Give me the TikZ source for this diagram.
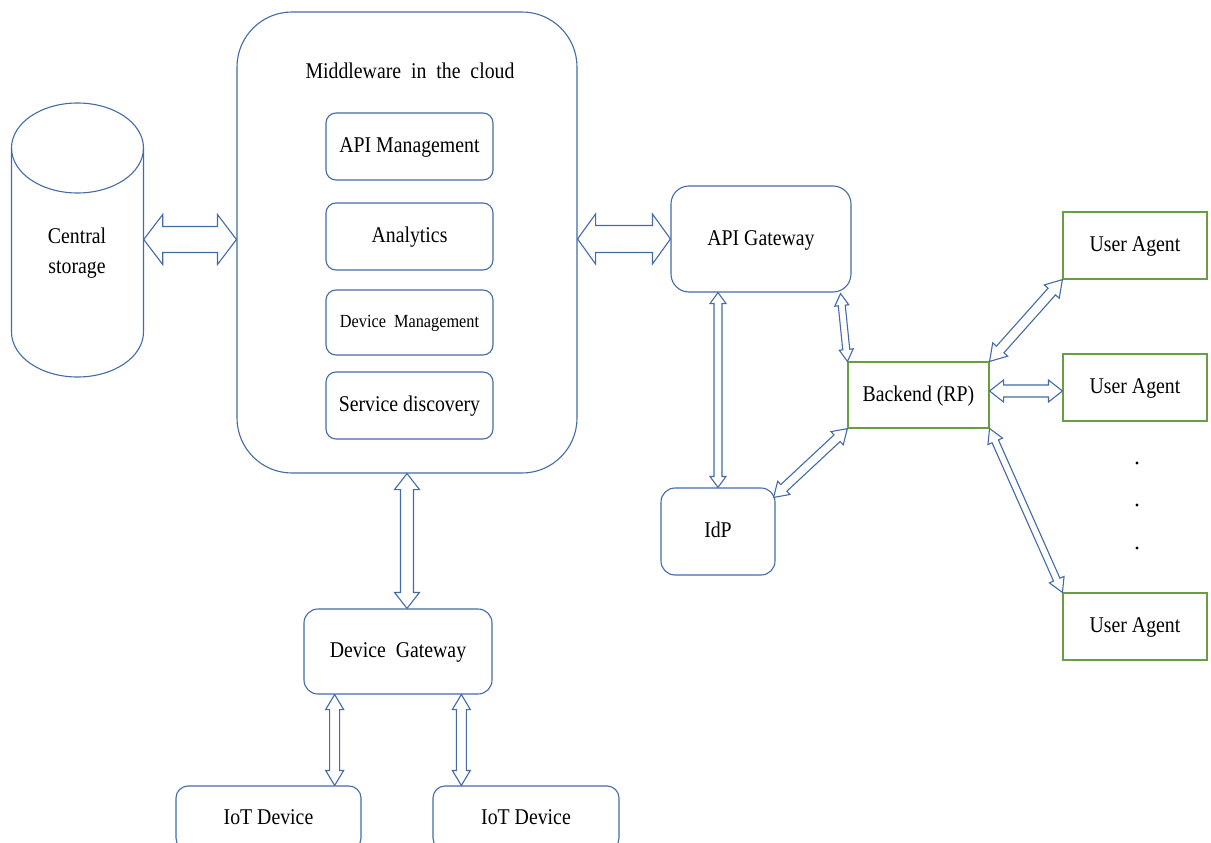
\documentclass[tikz,border=0pt]{standalone}
\usepackage{fontspec}
\setmainfont{Liberation Serif}[FakeStretch=0.88]
\usetikzlibrary{calc}

\definecolor{edgeblue}{RGB}{68,106,168}
\definecolor{edgegreen}{RGB}{104,158,66}

\tikzset{
  txt/.style={font=\fontsize{22.5}{28}\selectfont, text=black, text height=16pt, text depth=4pt},
  rbox/.style={draw=edgeblue, line width=1.1pt, rounded corners=#1, inner sep=0pt, txt},
  rbox/.default=14pt,
  gbox/.style={draw=edgegreen, line width=1.1pt, inner sep=0pt, txt},
  cylline/.style={draw=edgeblue, line width=1.1pt},
  flowarrow/.style={draw=edgeblue, line width=1.1pt, line join=miter, fill=white}
}

% hollow two-headed block arrow between two points:
% #1,#2 end points, #3 half shaft width, #4 half head width, #5 head length
\newcommand\twoway[5]{%
  \path let \p1=(#1), \p2=(#2),
            \n1={atan2(\y2-\y1,\x2-\x1)}, \n2={veclen(\x2-\x1,\y2-\y1)} in
    \pgfextra{\pgfmathsetmacro\twowaytmpa{\n1}\pgfmathsetmacro\twowaytmpb{\n2}%
              \xdef\twowayang{\twowaytmpa}\xdef\twowaylen{\twowaytmpb}};
  \begin{scope}[shift={(#1)}, rotate=\twowayang, x=1pt, y=1pt]
    \draw[flowarrow] (0,0) -- (#5,#4) -- (#5,#3) -- ({\twowaylen-#5},#3)
      -- ({\twowaylen-#5},#4) -- (\twowaylen,0) -- ({\twowaylen-#5},-#4)
      -- ({\twowaylen-#5},-#3) -- (#5,-#3) -- (#5,-#4) -- cycle;
  \end{scope}}

\begin{document}
\begin{tikzpicture}[x=1pt, y=-1pt]
\useasboundingbox (0,0) rectangle (1211,843);
\clip (0,0) rectangle (1211,843);

% central storage (cylinder)
\node[minimum width=132pt, minimum height=275pt, inner sep=0pt] (cs) at (77.5,239.5) {};
\draw[cylline] (77.5,148) ellipse [x radius=66, y radius=45];
\draw[cylline] (11.5,148) -- (11.5,332) arc[start angle=180, end angle=0, x radius=66, y radius=45] -- (143.5,148);
\node[font=\fontsize{22.5}{30}\selectfont, align=center] at (77,253) {Central\\storage};

% middleware
\node[rbox=55pt, minimum width=340pt, minimum height=461pt] (mw) at (407,242.5) {};
\node[txt] (mwtitle) at (410,72) {Middleware\ \ in\ \ the\ \ cloud};
\node[rbox=10pt, minimum width=167pt, minimum height=67pt] (apim) at (409.5,146.5) {API Management};
\node[rbox=10pt, minimum width=167pt, minimum height=67pt] (ana) at (409.5,236.5) {Analytics};
\node[rbox=10pt, minimum width=167pt, minimum height=65pt, font=\fontsize{18.5}{22}\selectfont, text height=13pt, text depth=3pt] (devm) at (409.5,322.5) {Device\ \ Management};
\node[rbox=10pt, minimum width=167pt, minimum height=67pt] (sd) at (409.5,405.5) {Service discovery};

% gateways and identity
\node[rbox=18pt, minimum width=180pt, minimum height=106pt] (api) at (761,239) {API Gateway};
\node[rbox=14pt, minimum width=114pt, minimum height=87pt] (idp) at (718,531.5) {IdP};
\node[gbox, minimum width=141pt, minimum height=66pt] (be) at (918.5,395) {Backend (RP)};

% user agents
\node[gbox, minimum width=144pt, minimum height=67pt] (ua1) at (1135,245.5) {User Agent};
\node[gbox, minimum width=144pt, minimum height=67pt] (ua2) at (1135,387.5) {User Agent};
\node[gbox, minimum width=144pt, minimum height=67pt] (ua3) at (1135,626.5) {User Agent};
\fill (1137,463) circle (1.7);
\fill (1137,505) circle (1.7);
\fill (1137,548) circle (1.7);

% device side
\node[rbox=14pt, minimum width=188pt, minimum height=85pt] (dg) at (398,651.5) {Device\ \ Gateway};
\node[rbox=12pt, minimum width=185pt, minimum height=64pt] (iot1) at (268.5,818) {IoT Device};
\node[rbox=12pt, minimum width=186pt, minimum height=64pt] (iot2) at (526,818) {IoT Device};

% connection points
\coordinate (d1) at ($(dg.south west)!0.165!(dg.south east)$);
\coordinate (d2) at ($(dg.south west)!0.835!(dg.south east)$);
\coordinate (apise) at ($(api.south east)+(-11,1)$);
\coordinate (idpne) at ($(idp.north east)+(-2,10)$);
\coordinate (bee) at ($(be.east)+(0,-4)$);

% links
\twoway{cs.east}{cs.east -| mw.west}{13}{25}{19}
\twoway{mw.east |- api.west}{api.west}{13.5}{25}{18}
\twoway{mw.south}{mw.south |- dg.north}{6.5}{12.5}{16}
\twoway{d1}{d1 |- iot1.north}{5}{9}{15}
\twoway{d2}{d2 |- iot2.north}{5}{9}{15}
\twoway{idp.north |- api.south}{idp.north}{4}{8}{11}
\twoway{apise}{be.north west}{3.5}{7}{12}
\twoway{idpne}{be.south west}{4.5}{9}{14}
\twoway{be.north east}{ua1.south west}{5}{10}{16}
\twoway{bee}{bee -| ua2.west}{6}{11}{14}
\twoway{be.south east}{ua3.north west}{3.5}{8}{14}
\end{tikzpicture}
\end{document}
